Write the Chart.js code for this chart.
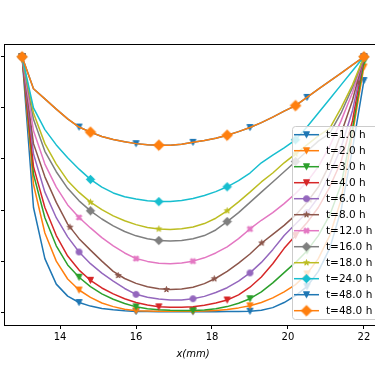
<!DOCTYPE html>
<html>
<head>
<meta charset="utf-8">
<script src="https://cdn.jsdelivr.net/npm/chart.js@4"></script>
<style>
  html, body { margin: 0; padding: 0; background: #fff; width: 375px; height: 366px; overflow: hidden; }
  canvas { display: block; }
</style>
</head>
<body>
<canvas id="chart" width="390" height="366"></canvas>
<script>
// x positions of the profile points (mm)
const xGrid = [13, 13.3, 13.6, 13.9, 14.2, 14.5, 14.8, 15.1, 15.4, 15.7, 16, 16.3, 16.6, 16.9, 17.2, 17.5,
               17.8, 18.1, 18.4, 18.7, 19, 19.3, 19.6, 19.9, 20.2, 20.5, 20.8, 21.1, 21.4, 21.7, 22];
const xTicks = [14, 16, 18, 20, 22];
const yTicks = [0, 0.2, 0.4, 0.6, 0.8, 1.0];

const labels = ['t=1.0 h', 't=2.0 h', 't=3.0 h', 't=4.0 h', 't=6.0 h', 't=8.0 h', 't=12.0 h',
                't=16.0 h', 't=18.0 h', 't=24.0 h', 't=48.0 h', 't=48.0 h'];

// profile values, one list per time
const t1  = [1.0, 0.41, 0.21, 0.11, 0.063, 0.038, 0.024, 0.015, 0.010, 0.006, 0.003, 0.003, 0.002, 0.002, 0.002, 0.002, 0.002, 0.002, 0.003, 0.003, 0.004, 0.008, 0.018, 0.038, 0.065, 0.10, 0.16, 0.25, 0.40, 0.64, 0.907];
const t2  = [1.0, 0.50, 0.31, 0.20, 0.13, 0.087, 0.058, 0.036, 0.022, 0.012, 0.006, 0.005, 0.004, 0.004, 0.004, 0.004, 0.005, 0.007, 0.011, 0.017, 0.025, 0.038, 0.056, 0.08, 0.108, 0.15, 0.21, 0.30, 0.44, 0.70, 0.96];
const t3  = [1.0, 0.54, 0.37, 0.26, 0.185, 0.137, 0.10, 0.072, 0.051, 0.034, 0.021, 0.014, 0.010, 0.008, 0.007, 0.007, 0.009, 0.014, 0.022, 0.035, 0.053, 0.08, 0.115, 0.155, 0.195, 0.24, 0.30, 0.38, 0.50, 0.72, 0.98];
const t4  = [1.0, 0.57, 0.41, 0.30, 0.22, 0.165, 0.125, 0.095, 0.072, 0.053, 0.038, 0.028, 0.021, 0.019, 0.019, 0.021, 0.027, 0.036, 0.048, 0.068, 0.098, 0.138, 0.19, 0.25, 0.30, 0.35, 0.41, 0.49, 0.59, 0.75, 1.0];
const t6  = [1.0, 0.62, 0.47, 0.37, 0.295, 0.236, 0.19, 0.153, 0.122, 0.093, 0.070, 0.059, 0.052, 0.048, 0.048, 0.053, 0.062, 0.077, 0.096, 0.122, 0.154, 0.195, 0.245, 0.30, 0.345, 0.39, 0.45, 0.54, 0.645, 0.79, 1.0];
const t8  = [1.0, 0.66, 0.53, 0.43, 0.345, 0.288, 0.243, 0.200, 0.160, 0.132, 0.113, 0.100, 0.092, 0.089, 0.091, 0.098, 0.112, 0.133, 0.16, 0.192, 0.228, 0.27, 0.305, 0.34, 0.38, 0.43, 0.49, 0.58, 0.70, 0.83, 1.0];
const t12 = [1.0, 0.71, 0.58, 0.49, 0.42, 0.371, 0.33, 0.292, 0.26, 0.232, 0.210, 0.199, 0.192, 0.190, 0.193, 0.200, 0.213, 0.232, 0.256, 0.288, 0.326, 0.36, 0.39, 0.425, 0.465, 0.51, 0.57, 0.65, 0.75, 0.86, 1.0];
const t16 = [1.0, 0.755, 0.63, 0.55, 0.485, 0.436, 0.397, 0.365, 0.338, 0.316, 0.299, 0.288, 0.281, 0.279, 0.281, 0.288, 0.30, 0.322, 0.355, 0.39, 0.43, 0.47, 0.51, 0.55, 0.59, 0.63, 0.67, 0.70, 0.78, 0.88, 1.0];
const t18 = [1.0, 0.78, 0.66, 0.58, 0.515, 0.469, 0.431, 0.402, 0.377, 0.358, 0.343, 0.332, 0.326, 0.324, 0.327, 0.334, 0.347, 0.368, 0.397, 0.432, 0.47, 0.51, 0.545, 0.585, 0.62, 0.655, 0.69, 0.72, 0.80, 0.89, 1.0];
const t24 = [1.0, 0.80, 0.715, 0.655, 0.605, 0.56, 0.52, 0.49, 0.467, 0.452, 0.443, 0.436, 0.433, 0.433, 0.437, 0.445, 0.457, 0.472, 0.491, 0.515, 0.545, 0.585, 0.615, 0.643, 0.675, 0.725, 0.78, 0.835, 0.89, 0.945, 1.0];
const t48 = [1.0, 0.875, 0.835, 0.795, 0.757, 0.725, 0.705, 0.688, 0.676, 0.667, 0.660, 0.656, 0.654, 0.654, 0.658, 0.665, 0.672, 0.681, 0.693, 0.707, 0.723, 0.742, 0.764, 0.787, 0.809, 0.841, 0.873, 0.905, 0.936, 0.968, 1.0];

// marker positions [x, y]
const t1Marks  = [[13, 1], [14.5, 0.038], [16, 0.003], [17.5, 0.002], [19, 0.004], [20.5, 0.10], [22, 0.907]];
const t2Marks  = [[13, 1], [14.5, 0.087], [16, 0.006], [17.5, 0.004], [19, 0.025], [20.5, 0.15], [22, 0.96]];
const t3Marks  = [[13, 1], [14.5, 0.137], [16, 0.021], [17.5, 0.007], [19, 0.053], [20.5, 0.24], [22, 0.98]];
const t4Marks  = [[13, 1], [14.8, 0.125], [16.6, 0.021], [18.4, 0.048], [20.2, 0.30], [22, 1]];
const t6Marks  = [[13, 1], [14.5, 0.236], [16, 0.070], [17.5, 0.053], [19, 0.154], [20.5, 0.39], [22, 1]];
const t8Marks  = [[13, 1], [14.26, 0.333], [15.53, 0.144], [16.8, 0.089], [18.06, 0.131], [19.31, 0.271], [20.57, 0.44], [21.83, 0.90]];
const t12Marks = [[13, 1], [14.5, 0.371], [16, 0.210], [17.5, 0.200], [19, 0.326], [20.5, 0.51], [22, 1]];
const t16Marks = [[13, 1], [14.8, 0.397], [16.6, 0.281], [18.4, 0.355], [20.2, 0.59], [22, 1]];
const t18Marks = [[13, 1], [14.8, 0.431], [16.6, 0.326], [18.4, 0.397], [20.2, 0.62], [22, 1]];
const t24Marks = [[13, 1], [14.8, 0.52], [16.6, 0.433], [18.4, 0.491], [20.2, 0.675], [22, 1]];
const t48aMarks = [[13, 1], [14.5, 0.725], [16, 0.660], [17.5, 0.665], [19, 0.723], [20.5, 0.841], [22, 1]];
const t48bMarks = [[13, 1], [14.8, 0.705], [16.6, 0.654], [18.4, 0.693], [20.2, 0.809], [22, 1]];

const lines = [t1, t2, t3, t4, t6, t8, t12, t16, t18, t24, t48, t48];
const marks = [t1Marks, t2Marks, t3Marks, t4Marks, t6Marks, t8Marks, t12Marks, t16Marks, t18Marks, t24Marks, t48aMarks, t48bMarks];
const colors = ['#1f77b4', '#ff7f0e', '#2ca02c', '#d62728', '#9467bd', '#8c564b', '#e377c2',
                '#7f7f7f', '#bcbd22', '#17becf', '#1f77b4', '#ff7f0e'];
const shapes = ['v', 'v', 'v', 'v', 'o', '*', 'X', 'D', '*', 'D', 'v', 'D'];
const sizes  = [6, 6, 6, 6, 6, 6, 6, 6, 6, 6, 6, 7.5];

const FONT = '"DejaVu Sans", Verdana, sans-serif';

// small canvas per marker, drawn like the matplotlib ones
function makeMarker(shape, color, size) {
    const c = document.createElement('canvas');
    const d = Math.ceil(size * 1.8) + 4;
    c.width = d; c.height = d;
    const g = c.getContext('2d');
    const m = d / 2, h = size / 2;
    g.fillStyle = color;
    g.strokeStyle = color;
    g.lineWidth = 1;
    g.lineJoin = 'miter';
    g.beginPath();
    if (shape === 'v') {
        g.moveTo(m, m + h); g.lineTo(m - h, m - h); g.lineTo(m + h, m - h);
    } else if (shape === 'o') {
        g.arc(m, m, h, 0, Math.PI * 2);
    } else if (shape === 'D') {
        const r = size * Math.SQRT1_2;
        g.moveTo(m, m - r); g.lineTo(m + r, m); g.lineTo(m, m + r); g.lineTo(m - r, m);
    } else if (shape === '*') {
        for (let k = 0; k < 10; k++) {
            const r = k % 2 === 0 ? h : h * 0.382;
            const a = -Math.PI / 2 + k * Math.PI / 5;
            g.lineTo(m + r * Math.cos(a), m + r * Math.sin(a));
        }
    } else if (shape === 'X') {
        const p = [[-1, -3], [1, -3], [1, -1], [3, -1], [3, 1], [1, 1], [1, 3], [-1, 3], [-1, 1], [-3, 1], [-3, -1], [-1, -1]];
        const c45 = Math.SQRT1_2;
        p.forEach(([px, py]) => {
            const sx = px * size / 6, sy = py * size / 6;
            g.lineTo(m + (sx - sy) * c45, m + (sx + sy) * c45);
        });
    }
    g.closePath();
    g.fill();
    g.stroke();
    return c;
}

const markerImgs = shapes.map((s, i) => makeMarker(s, colors[i], sizes[i]));

const datasets = [];
const n = lines.length;
lines.forEach((vals, i) => {
    datasets.push({
        data: xGrid.map((x, k) => ({ x, y: vals[k] })),
        showLine: true,
        borderColor: colors[i],
        borderWidth: 1.5,
        borderJoinStyle: 'round',
        pointRadius: 0,
        tension: 0,
        order: 2 * (n - i) + 1
    });
    datasets.push({
        data: marks[i].map(([x, y]) => ({ x, y })),
        showLine: false,
        pointStyle: markerImgs[i],
        pointRadius: 4,
        order: 2 * (n - i)
    });
});

const framePlugin = {
    id: 'frame',
    afterDatasetsDraw(chart) {
        const { ctx, chartArea: a } = chart;
        ctx.save();
        ctx.strokeStyle = '#000';
        ctx.lineWidth = 1;
        ctx.strokeRect(a.left - 0.5, a.top + 0.5, a.right - a.left + 1, a.bottom - a.top);
        ctx.restore();
    }
};

const legendPlugin = {
    id: 'boxLegend',
    afterDraw(chart) {
        const ctx = chart.ctx;
        const lx = 292.5, ly = 126.5, lw = 100, lh = 193, r = 3;
        ctx.save();
        ctx.beginPath();
        ctx.moveTo(lx + r, ly);
        ctx.arcTo(lx + lw, ly, lx + lw, ly + lh, r);
        ctx.arcTo(lx + lw, ly + lh, lx, ly + lh, r);
        ctx.arcTo(lx, ly + lh, lx, ly, r);
        ctx.arcTo(lx, ly, lx + lw, ly, r);
        ctx.closePath();
        ctx.fillStyle = 'rgba(255,255,255,0.8)';
        ctx.fill();
        ctx.strokeStyle = '#cccccc';
        ctx.lineWidth = 1;
        ctx.stroke();

        ctx.font = '10.5px ' + FONT;
        ctx.textBaseline = 'middle';
        labels.forEach((lab, i) => {
            const y = 134.7 + 16 * i;
            ctx.strokeStyle = colors[i];
            ctx.lineWidth = 1.5;
            ctx.beginPath();
            ctx.moveTo(294, y);
            ctx.lineTo(319, y);
            ctx.stroke();
            const img = markerImgs[i];
            ctx.drawImage(img, 306.5 - img.width / 2, y - img.height / 2);
            ctx.fillStyle = '#000';
            ctx.fillText(lab, 326, y + 0.5);
        });
        ctx.restore();
    }
};

new Chart(document.getElementById('chart'), {
    type: 'scatter',
    data: { datasets },
    options: {
        responsive: false,
        animation: false,
        events: [],
        layout: { padding: { left: 0, top: 44, right: 9, bottom: 0 } },
        plugins: { legend: { display: false }, tooltip: { enabled: false } },
        scales: {
            x: {
                type: 'linear',
                min: 12.55,
                max: 22.45,
                afterBuildTicks: s => { s.ticks = xTicks.map(v => ({ value: v })); },
                afterFit: s => { s.height = 41; },
                ticks: {
                    font: { family: FONT, size: 10 },
                    color: '#000',
                    padding: 2,
                    maxRotation: 0,
                    callback: v => String(v)
                },
                grid: { drawOnChartArea: false, drawTicks: true, tickLength: 4, color: '#000', lineWidth: 1 },
                border: { display: false },
                title: {
                    display: true,
                    text: 'x(mm)',
                    color: '#000',
                    font: { family: FONT, size: 10, style: 'italic' },
                    padding: { top: 0, bottom: 6 }
                }
            },
            y: {
                type: 'linear',
                min: -0.05,
                max: 1.05,
                afterBuildTicks: s => { s.ticks = yTicks.map(v => ({ value: v })); },
                afterFit: s => { s.width = 4; },
                ticks: { display: false },
                grid: { drawOnChartArea: false, drawTicks: true, tickLength: 4, color: '#000', lineWidth: 1 },
                border: { display: false }
            }
        }
    },
    plugins: [framePlugin, legendPlugin]
});
</script>
</body>
</html>
